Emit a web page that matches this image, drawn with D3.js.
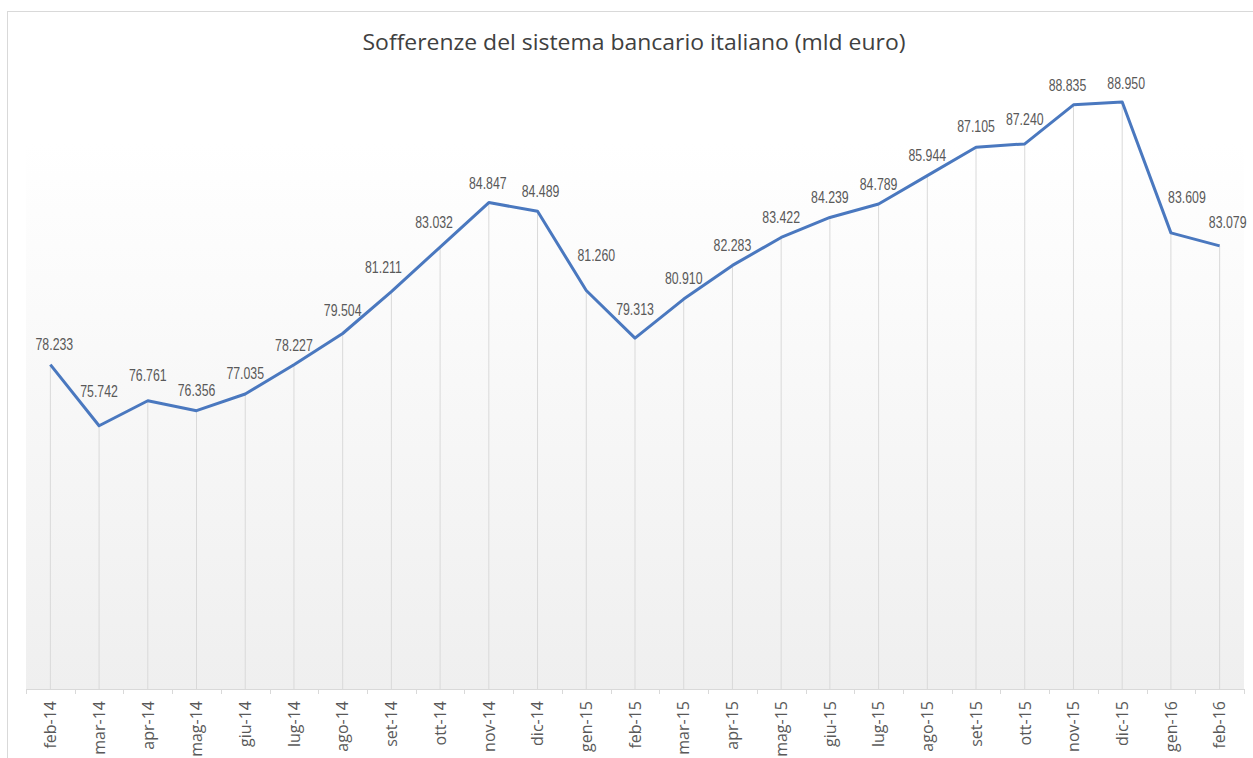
<!DOCTYPE html>
<html>
<head>
<meta charset="utf-8">
<script src="https://cdn.jsdelivr.net/npm/d3@7"></script>
<style>
  html, body { margin: 0; padding: 0; background: #ffffff; }
  svg { display: block; }
</style>
</head>
<body>
<svg id="chart" width="1253" height="758"></svg>
<script>
// Monthly bad loans of the Italian banking system, billions of euro
const months = ["feb-14","mar-14","apr-14","mag-14","giu-14","lug-14","ago-14","set-14","ott-14","nov-14","dic-14",
                "gen-15","feb-15","mar-15","apr-15","mag-15","giu-15","lug-15","ago-15","set-15","ott-15","nov-15","dic-15",
                "gen-16","feb-16"];
const sofferenze = [78.233, 75.742, 76.761, 76.356, 77.035, 78.227, 79.504, 81.211, 83.032, 84.847, 84.489,
                    81.260, 79.313, 80.910, 82.283, 83.422, 84.239, 84.789, 85.944, 87.105, 87.240, 88.835, 88.950,
                    83.609, 83.079];
const yDomain = [65, 90];
const title = "Sofferenze del sistema bancario italiano (mld euro)";

const data = months.map((m, i) => ({ m, v: sofferenze[i] }));

// label placement tweaks so value labels clear the line
const labelShift = {
  "feb-14": [4, -20], "mar-14": [0, -34], "apr-14": [0, -25], "giu-14": [0, -21],
  "ago-14": [0, -23], "set-14": [-8, -24], "ott-14": [-6, -25], "nov-14": [-1, -19],
  "dic-14": [3, -20], "gen-15": [10, -35], "feb-15": [0, -29], "mar-15": [0, -21],
  "set-15": [0, -21], "ott-15": [0, -25], "nov-15": [-6, -20], "dic-15": [4, -19],
  "gen-16": [16, -36], "feb-16": [8, -24]
};

const svg = d3.select("#chart");
const plot = { left: 26, right: 1244, top: 143, bottom: 689 };

// chart frame
svg.append("rect")
  .attr("x", 7.5).attr("y", 11.5)
  .attr("width", 1260).attr("height", 760)
  .attr("fill", "#ffffff").attr("stroke", "#d9d9d9").attr("stroke-width", 1);

// plot area gradient
const defs = svg.append("defs");
const grad = defs.append("linearGradient").attr("id", "plotFill")
  .attr("x1", 0).attr("y1", 0).attr("x2", 0).attr("y2", 1);
grad.append("stop").attr("offset", "0%").attr("stop-color", "#ffffff");
grad.append("stop").attr("offset", "100%").attr("stop-color", "#efefef");

svg.append("rect")
  .attr("x", plot.left).attr("y", plot.top)
  .attr("width", plot.right - plot.left).attr("height", plot.bottom - plot.top)
  .attr("fill", "url(#plotFill)");

const x = d3.scaleBand().domain(months).range([plot.left, plot.right]);
const y = d3.scaleLinear().domain(yDomain).range([plot.bottom, plot.bottom - (yDomain[1] - yDomain[0]) * 24.51]);
const cx = m => x(m) + x.bandwidth() / 2;

// squeeze text horizontally to a narrower face
function condense(sel, k) {
  sel.each(function () {
    const w = this.getComputedTextLength();
    d3.select(this).attr("textLength", w * k).attr("lengthAdjust", "spacingAndGlyphs");
  });
}

// title
svg.append("text")
  .attr("x", 634).attr("y", 50)
  .attr("text-anchor", "middle")
  .attr("font-family", "'Open Sans', sans-serif")
  .attr("font-size", 22)
  .attr("fill", "#404040")
  .text(title)
  .attr("textLength", 543).attr("lengthAdjust", "spacingAndGlyphs");

// drop lines from each point to the axis
svg.append("g").selectAll("line").data(data).join("line")
  .attr("x1", d => cx(d.m)).attr("x2", d => cx(d.m))
  .attr("y1", d => y(d.v)).attr("y2", plot.bottom)
  .attr("stroke", "#d9d9d9").attr("stroke-width", 1);

// category axis
const axis = svg.append("g")
  .attr("transform", `translate(0,${plot.bottom})`)
  .call(d3.axisBottom(x).tickSize(0).tickPadding(0));
axis.select(".domain").remove();
axis.selectAll(".tick text")
  .attr("transform", "rotate(-90)")
  .attr("x", -12).attr("y", 0).attr("dy", "0.36em")
  .attr("text-anchor", "end")
  .attr("font-family", "'Open Sans', sans-serif")
  .attr("font-size", 16)
  .attr("fill", "#595959");

svg.append("line")
  .attr("x1", plot.left).attr("x2", plot.right)
  .attr("y1", plot.bottom + 0.5).attr("y2", plot.bottom + 0.5)
  .attr("stroke", "#d9d9d9").attr("stroke-width", 1);

const bounds = months.map(m => x(m)).concat([x(months[months.length - 1]) + x.bandwidth()]);
svg.append("g").selectAll("line").data(bounds).join("line")
  .attr("x1", d => Math.round(d) + 0.5).attr("x2", d => Math.round(d) + 0.5)
  .attr("y1", plot.bottom).attr("y2", plot.bottom + 5)
  .attr("stroke", "#d9d9d9").attr("stroke-width", 1);

// series line
const line = d3.line().x(d => cx(d.m)).y(d => y(d.v));
svg.append("path")
  .datum(data)
  .attr("d", line)
  .attr("fill", "none")
  .attr("stroke", "#4a78bf")
  .attr("stroke-width", 3)
  .attr("stroke-linejoin", "round");

// value labels
const fmt = v => v.toFixed(3);
svg.append("g").selectAll("text").data(data).join("text")
  .attr("x", d => cx(d.m) + (labelShift[d.m] || [0, -20])[0])
  .attr("y", d => y(d.v) + (labelShift[d.m] || [0, -20])[1])
  .attr("dy", "0.36em")
  .attr("text-anchor", "middle")
  .attr("font-family", "'Liberation Sans', Arial, sans-serif")
  .attr("font-size", 16)
  .attr("fill", "#595959")
  .text(d => fmt(d.v))
  .call(condense, 0.77);
</script>
</body>
</html>
